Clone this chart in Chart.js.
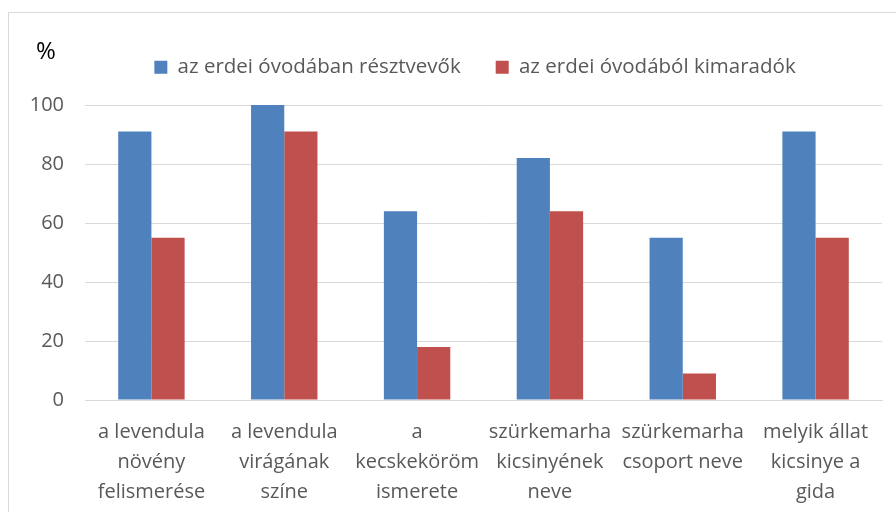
<!DOCTYPE html>
<html>
<head>
<meta charset="utf-8">
<script src="https://cdn.jsdelivr.net/npm/chart.js@4"></script>
<style>
  html, body { margin: 0; padding: 0; background: #fff; overflow: hidden; }
  #frame { position: absolute; left: 8px; top: 12px; width: 900px; height: 520px; border: 1px solid #d9d9d9; }
  #wrap { position: absolute; left: 0; top: 0; width: 896px; height: 512px; }
</style>
</head>
<body>
<div id="frame"></div>
<div id="wrap"><canvas id="chart" width="896" height="512"></canvas></div>
<script>
const categories = [
  ['a levendula', 'növény', 'felismerése'],
  ['a levendula', 'virágának', 'színe'],
  ['a', 'kecskeköröm', 'ismerete'],
  ['szürkemarha', 'kicsinyének', 'neve'],
  ['szürkemarha', 'csoport neve'],
  ['melyik állat', 'kicsinye a', 'gida'],
];
const seriesNames = ['az erdei óvodában résztvevők', 'az erdei óvodából kimaradók'];
const participants = [91, 100, 64, 82, 55, 91];
const leftOut = [55, 91, 18, 64, 9, 55];
const yTicks = [0, 20, 40, 60, 80, 100];

const FONT = '"Open Sans", sans-serif';
const TEXT = '#595959';
const GRID = '#d9d9d9';

// percent sign above the value axis
const unitLabel = {
  id: 'unitLabel',
  afterDraw(chart) {
    const { ctx } = chart;
    ctx.save();
    ctx.fillStyle = '#000';
    ctx.font = `24px ${FONT}`;
    ctx.textAlign = 'center';
    ctx.textBaseline = 'middle';
    ctx.fillText('%', 46, 52);
    ctx.restore();
  },
};

// fixed legend height, and the legend sits a bit right of centre (centred over the plot)
const legendTweak = {
  id: 'legendTweak',
  beforeInit(chart) {
    const legend = chart.legend;
    const fit = legend.fit;
    legend.fit = function () {
      fit.call(this);
      this.height = 83;
    };
    const draw = legend.draw;
    legend.draw = function () {
      this.ctx.save();
      this.ctx.translate(34, 0);
      draw.call(this);
      this.ctx.restore();
    };
  },
};

new Chart(document.getElementById('chart'), {
  type: 'bar',
  data: {
    labels: categories,
    datasets: [
      { label: seriesNames[0], data: participants, backgroundColor: '#4f81bd' },
      { label: seriesNames[1], data: leftOut, backgroundColor: '#c0504d' },
    ],
  },
  options: {
    responsive: false,
    animation: false,
    devicePixelRatio: 1,
    layout: { padding: { top: 22, right: 14, left: 0, bottom: 0 } },
    datasets: { bar: { barPercentage: 1, categoryPercentage: 0.5 } },
    plugins: {
      legend: {
        position: 'top',
        labels: {
          color: TEXT,
          font: { family: FONT, size: 20.5 },
          boxWidth: 13,
          boxHeight: 13,
          padding: 35,
        },
      },
      tooltip: { enabled: false },
    },
    scales: {
      x: {
        grid: { display: false, drawTicks: false },
        border: { color: GRID, width: 1 },
        ticks: {
          color: TEXT,
          font: { family: FONT, size: 20, lineHeight: 1.5 },
          maxRotation: 0,
          autoSkip: false,
          padding: 17,
        },
        afterFit(scale) { scale.height = 112; },
      },
      y: {
        min: 0,
        max: 100,
        afterBuildTicks(scale) { scale.ticks = yTicks.map((v) => ({ value: v })); },
        grid: { color: GRID, lineWidth: 1, drawTicks: false },
        border: { display: false },
        ticks: {
          color: TEXT,
          font: { family: FONT, size: 20 },
          padding: 21,
        },
        afterFit(scale) { scale.width = 85; },
      },
    },
  },
  plugins: [unitLabel, legendTweak],
});
</script>
</body>
</html>
